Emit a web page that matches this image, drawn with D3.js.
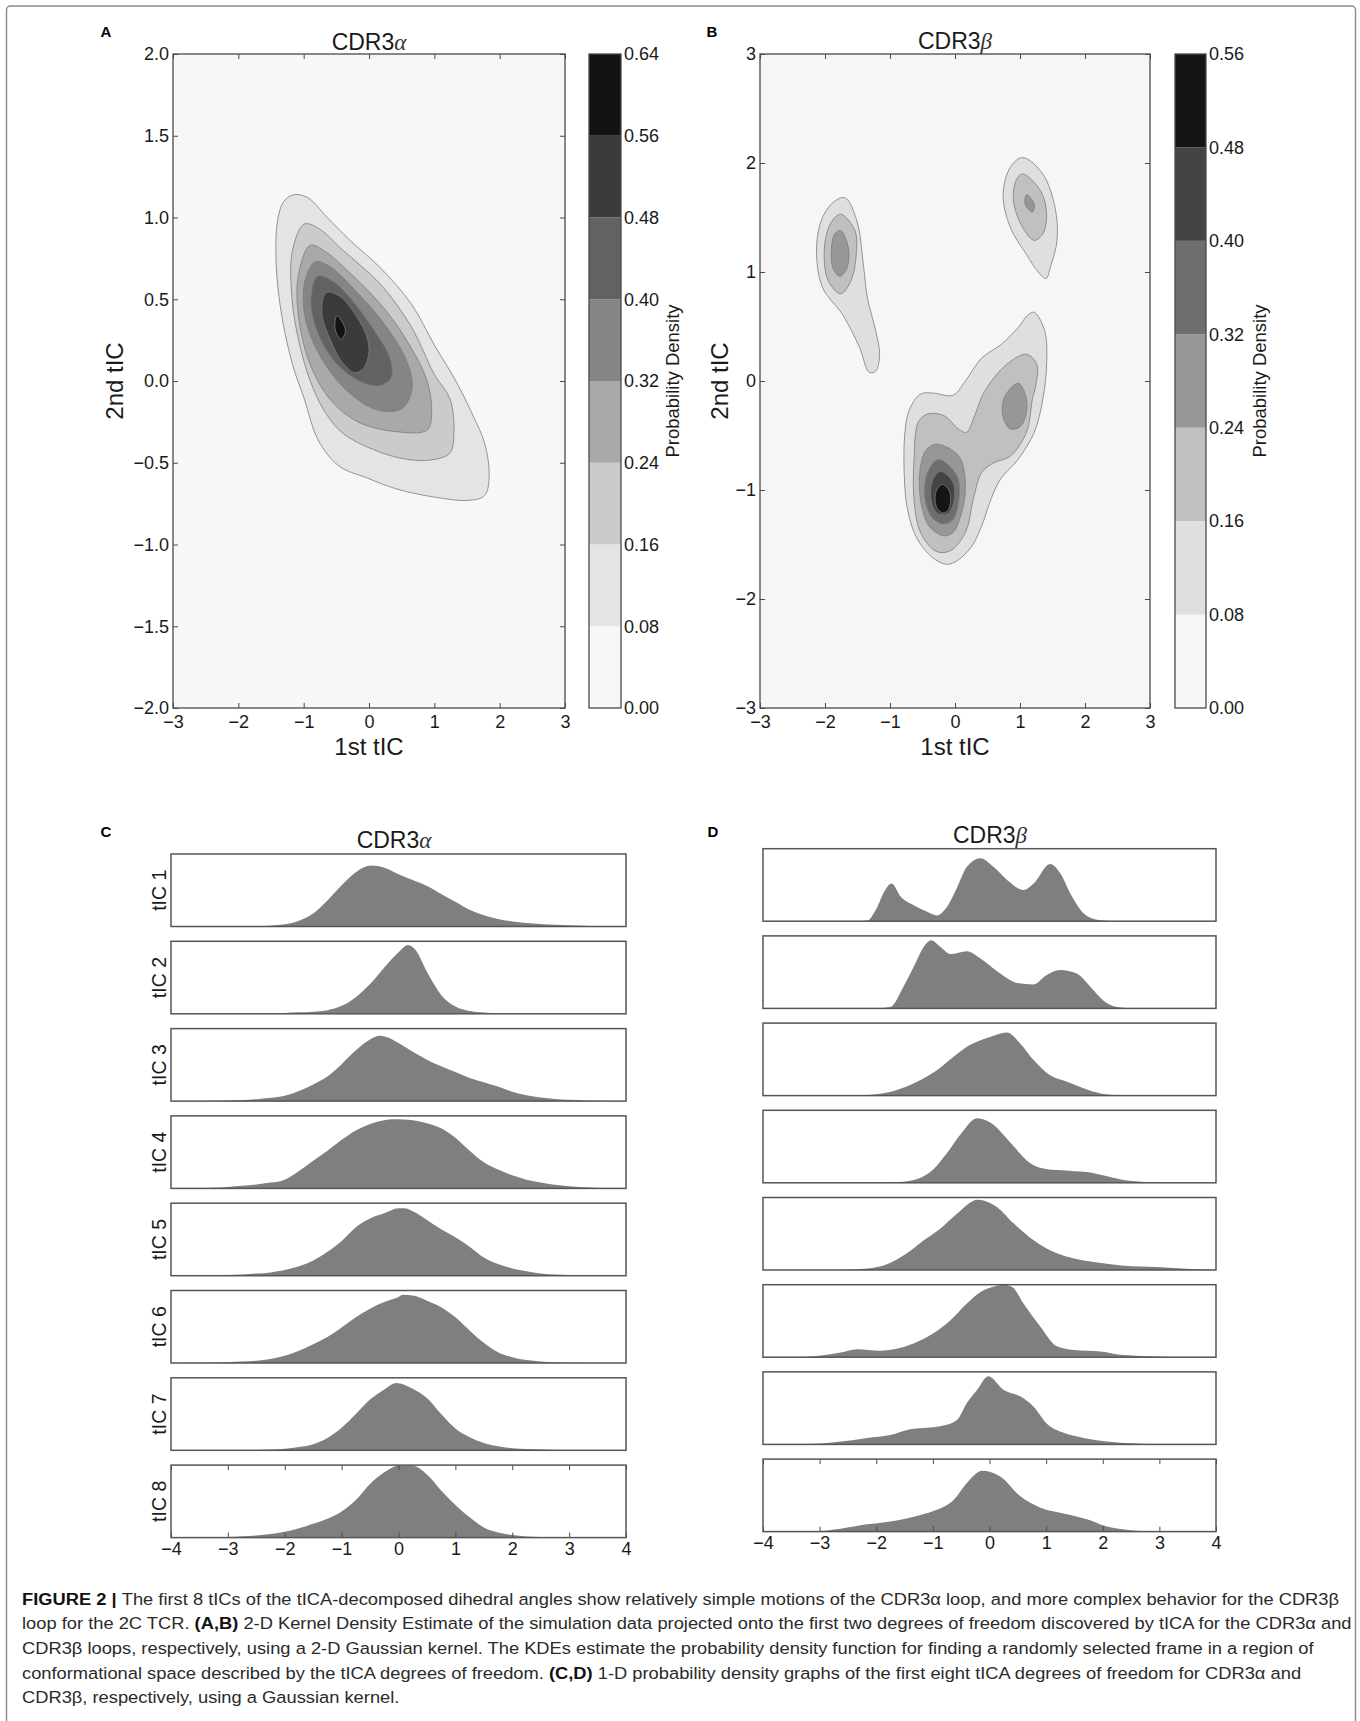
<!DOCTYPE html>
<html><head><meta charset="utf-8">
<script src="https://cdn.jsdelivr.net/npm/d3@7"></script>
<style>
body{margin:0;background:#fff}
svg{display:block}
text{font-family:"Liberation Sans",Arial,Helvetica,sans-serif}
</style></head>
<body><svg id="fig" width="1360" height="1721"></svg>
<script>
// ---------------- DATA ----------------
// Panel A (CDR3 alpha) - 2D KDE contour outlines [1st tIC, 2nd tIC]
const levelsA = [0, 0.08, 0.16, 0.24, 0.32, 0.40, 0.48, 0.56, 0.64];
const contourA08 = [[-1.14,1.14],[-0.93,1.12],[-0.64,1.0],[-0.29,0.86],[0.18,0.69],[0.65,0.47],[1.0,0.22],[1.33,0.0],[1.59,-0.21],[1.77,-0.38],[1.84,-0.58],[1.77,-0.70],[1.53,-0.73],[1.0,-0.71],[0.42,-0.66],[-0.05,-0.59],[-0.46,-0.52],[-0.78,-0.36],[-0.99,-0.11],[-1.17,0.10],[-1.34,0.41],[-1.42,0.71],[-1.40,0.98],[-1.30,1.10]];
const contourA16 = [[-0.99,0.96],[-0.76,0.93],[-0.40,0.80],[0.18,0.59],[0.65,0.33],[1.0,0.04],[1.24,-0.11],[1.30,-0.32],[1.24,-0.44],[1.0,-0.48],[0.59,-0.48],[0.07,-0.42],[-0.40,-0.32],[-0.64,-0.21],[-0.85,-0.05],[-1.05,0.20],[-1.18,0.51],[-1.17,0.80]];
const contourA24 = [[-0.90,0.83],[-0.70,0.80],[-0.29,0.66],[0.24,0.44],[0.65,0.20],[0.89,0.0],[0.96,-0.19],[0.89,-0.30],[0.42,-0.31],[-0.17,-0.25],[-0.58,-0.12],[-0.90,0.10],[-1.08,0.40],[-1.08,0.65]];
const contourA32 = [[-0.82,0.73],[-0.60,0.70],[-0.20,0.55],[0.25,0.34],[0.58,0.12],[0.66,-0.05],[0.50,-0.17],[0.15,-0.18],[-0.25,-0.09],[-0.60,0.06],[-0.88,0.26],[-1.00,0.45],[-0.97,0.63]];
const contourA40 = [[-0.79,0.64],[-0.55,0.61],[-0.25,0.49],[0.08,0.31],[0.32,0.14],[0.34,0.02],[0.15,-0.03],[-0.20,0.01],[-0.55,0.13],[-0.79,0.30],[-0.89,0.48]];
const contourA48 = [[-0.66,0.54],[-0.45,0.52],[-0.25,0.43],[-0.05,0.29],[0.00,0.18],[-0.08,0.08],[-0.22,0.05],[-0.42,0.12],[-0.60,0.26],[-0.72,0.41]];
const contourA56 = [[-0.49,0.40],[-0.36,0.31],[-0.43,0.255],[-0.52,0.32]];

// Panel B (CDR3 beta)
const levelsB = [0, 0.08, 0.16, 0.24, 0.32, 0.40, 0.48, 0.56];
const contourB08 = [
  [[-1.69,1.68],[-1.51,1.47],[-1.41,1.07],[-1.35,0.77],[-1.22,0.46],[-1.16,0.245],[-1.22,0.09],[-1.32,0.08],[-1.47,0.31],[-1.73,0.61],[-2.04,0.86],[-2.13,1.22],[-2.04,1.50],[-1.85,1.65]],
  [[1.04,2.05],[1.35,1.90],[1.54,1.59],[1.57,1.29],[1.47,1.05],[1.40,0.94],[1.28,1.00],[1.10,1.16],[0.85,1.41],[0.74,1.71],[0.85,1.96]],
  [[1.22,0.63],[1.38,0.46],[1.41,0.15],[1.35,-0.17],[1.22,-0.47],[0.97,-0.72],[0.70,-0.90],[0.55,-1.09],[0.41,-1.33],[0.23,-1.54],[-0.08,-1.68],[-0.30,-1.64],[-0.58,-1.45],[-0.73,-1.18],[-0.78,-0.87],[-0.77,-0.47],[-0.70,-0.26],[-0.53,-0.12],[-0.35,-0.11],[-0.03,-0.13],[0.16,0.0],[0.41,0.21],[0.72,0.34],[0.97,0.49],[1.13,0.61]]
];
const contourB16 = [
  [[-1.76,1.53],[-1.54,1.38],[-1.52,1.16],[-1.60,0.92],[-1.76,0.80],[-1.95,0.92],[-2.01,1.22],[-1.91,1.45]],
  [[1.04,1.90],[1.32,1.74],[1.41,1.53],[1.35,1.35],[1.22,1.29],[1.04,1.41],[0.90,1.65],[0.94,1.84]],
  [[1.10,0.245],[1.26,0.15],[1.24,-0.05],[1.19,-0.17],[1.10,-0.47],[0.85,-0.69],[0.60,-0.75],[0.41,-0.84],[0.28,-1.09],[0.16,-1.39],[-0.08,-1.56],[-0.30,-1.56],[-0.53,-1.39],[-0.63,-1.09],[-0.63,-0.72],[-0.56,-0.37],[-0.40,-0.30],[-0.16,-0.32],[0.05,-0.44],[0.18,-0.47],[0.30,-0.32],[0.45,-0.10],[0.79,0.15]]
];
const contourB24 = [
  [[-1.76,1.38],[-1.64,1.22],[-1.66,1.04],[-1.77,0.96],[-1.88,1.04],[-1.90,1.22],[-1.85,1.35]],
  [[1.10,1.71],[1.22,1.62],[1.19,1.55],[1.08,1.62]],
  [[0.97,-0.02],[1.08,-0.12],[1.10,-0.29],[1.0,-0.42],[0.85,-0.44],[0.74,-0.33],[0.76,-0.15]],
  [[-0.28,-0.58],[0.06,-0.69],[0.16,-0.96],[0.10,-1.21],[-0.03,-1.39],[-0.18,-1.42],[-0.40,-1.33],[-0.53,-1.09],[-0.53,-0.78],[-0.44,-0.63]]
];
const contourB32 = [[[-0.25,-0.72],[0.03,-0.87],[0.06,-1.09],[-0.03,-1.27],[-0.18,-1.31],[-0.37,-1.24],[-0.47,-1.02],[-0.40,-0.81]]];
const contourB40 = [[[-0.22,-0.83],[-0.03,-0.93],[-0.02,-1.12],[-0.12,-1.22],[-0.28,-1.21],[-0.37,-1.09],[-0.34,-0.90]]];
const contourB48 = [[[-0.19,-0.95],[-0.08,-1.02],[-0.10,-1.18],[-0.19,-1.21],[-0.29,-1.15],[-0.29,-1.01]]];

// Axis ticks
const xTicks2D = [-3,-2,-1,0,1,2,3];
const yTicksA = [-2,-1.5,-1,-0.5,0,0.5,1,1.5,2];
const yTicksB = [-3,-2,-1,0,1,2,3];
const xTicks1D = [-4,-3,-2,-1,0,1,2,3,4];
const tICLabels = ["tIC 1","tIC 2","tIC 3","tIC 4","tIC 5","tIC 6","tIC 7","tIC 8"];

// Panel C: 1-D densities, CDR3 alpha  [x, relative density]
const densC1 = [[-4,0],[-2.75,0],[-2.5,0.005],[-2.25,0.012],[-2,0.03],[-1.75,0.08],[-1.5,0.18],[-1.25,0.36],[-1,0.57],[-0.75,0.75],[-0.48,0.84],[-0.25,0.81],[0,0.72],[0.25,0.64],[0.5,0.56],[0.75,0.45],[1,0.34],[1.25,0.23],[1.5,0.155],[1.75,0.105],[2,0.07],[2.25,0.05],[2.5,0.035],[2.75,0.025],[3,0.018],[3.25,0.012],[3.5,0.008],[3.75,0.004],[4,0.002]];
const densC2 = [[-4,0],[-2.5,0],[-2.25,0.005],[-2,0.012],[-1.75,0.02],[-1.5,0.03],[-1.25,0.05],[-1,0.11],[-0.75,0.23],[-0.5,0.41],[-0.25,0.64],[0,0.85],[0.17,0.95],[0.3,0.88],[0.5,0.58],[0.75,0.26],[1,0.10],[1.25,0.04],[1.5,0.018],[1.75,0.008],[2,0.003],[2.5,0],[4,0]];
const densC3 = [[-4,0],[-3.5,0.002],[-3.25,0.005],[-3,0.01],[-2.75,0.015],[-2.5,0.025],[-2.25,0.045],[-2,0.075],[-1.75,0.14],[-1.5,0.23],[-1.25,0.34],[-1,0.51],[-0.75,0.70],[-0.5,0.85],[-0.33,0.90],[-0.2,0.88],[0,0.80],[0.25,0.68],[0.5,0.57],[0.75,0.48],[1,0.40],[1.25,0.32],[1.5,0.26],[1.75,0.20],[2,0.13],[2.25,0.08],[2.5,0.05],[2.75,0.03],[3,0.018],[3.25,0.01],[3.5,0.005],[4,0]];
const densC4 = [[-4,0],[-3.5,0.005],[-3.25,0.01],[-3,0.02],[-2.75,0.035],[-2.5,0.055],[-2.25,0.08],[-2,0.12],[-1.75,0.24],[-1.5,0.38],[-1.25,0.52],[-1,0.67],[-0.75,0.80],[-0.5,0.89],[-0.25,0.94],[-0.1,0.955],[0.1,0.95],[0.25,0.94],[0.5,0.90],[0.75,0.83],[1,0.70],[1.25,0.52],[1.5,0.36],[1.75,0.26],[2,0.18],[2.25,0.12],[2.5,0.08],[2.75,0.05],[3,0.03],[3.25,0.015],[3.5,0.007],[4,0]];
const densC5 = [[-4,0],[-3.5,0.003],[-3.25,0.006],[-3,0.01],[-2.75,0.018],[-2.5,0.03],[-2.25,0.045],[-2,0.08],[-1.75,0.13],[-1.5,0.21],[-1.25,0.33],[-1,0.48],[-0.75,0.67],[-0.5,0.79],[-0.25,0.86],[0,0.93],[0.1,0.93],[0.25,0.89],[0.5,0.77],[0.75,0.64],[1,0.53],[1.25,0.40],[1.5,0.25],[1.75,0.16],[2,0.10],[2.25,0.06],[2.5,0.03],[2.75,0.015],[3,0.008],[3.5,0.002],[4,0]];
const densC6 = [[-4,0],[-3.5,0.003],[-3.25,0.007],[-3,0.012],[-2.75,0.02],[-2.5,0.03],[-2.25,0.055],[-2,0.10],[-1.75,0.17],[-1.5,0.26],[-1.25,0.36],[-1,0.49],[-0.75,0.63],[-0.5,0.75],[-0.25,0.84],[0,0.91],[0.08,0.94],[0.25,0.93],[0.5,0.86],[0.75,0.77],[1,0.63],[1.25,0.45],[1.5,0.28],[1.75,0.15],[2,0.08],[2.25,0.04],[2.5,0.02],[2.75,0.01],[3,0.005],[3.5,0],[4,0]];
const densC7 = [[-4,0],[-3,0],[-2.75,0.002],[-2.5,0.005],[-2.25,0.01],[-2,0.02],[-1.75,0.045],[-1.5,0.085],[-1.25,0.17],[-1,0.31],[-0.75,0.50],[-0.5,0.70],[-0.25,0.84],[-0.04,0.93],[0.25,0.85],[0.5,0.72],[0.75,0.50],[1,0.30],[1.25,0.18],[1.5,0.10],[1.75,0.055],[2,0.03],[2.25,0.018],[2.5,0.01],[2.75,0.005],[3,0.002],[3.25,0],[4,0]];
const densC8 = [[-4,0],[-3.5,0.002],[-3.25,0.005],[-3,0.01],[-2.75,0.02],[-2.5,0.03],[-2.25,0.05],[-2,0.08],[-1.75,0.13],[-1.5,0.19],[-1.25,0.26],[-1,0.36],[-0.75,0.52],[-0.5,0.74],[-0.25,0.90],[0,0.99],[0.25,0.99],[0.5,0.87],[0.75,0.65],[1,0.45],[1.25,0.28],[1.5,0.14],[1.75,0.07],[2,0.035],[2.25,0.015],[2.5,0.007],[2.75,0.003],[3,0],[4,0]];

// Panel D: 1-D densities, CDR3 beta
const densD1 = [[-4,0],[-2.4,0],[-2.16,0.01],[-2,0.17],[-1.85,0.42],[-1.73,0.52],[-1.57,0.34],[-1.34,0.22],[-1.1,0.13],[-0.93,0.08],[-0.75,0.20],[-0.57,0.47],[-0.40,0.75],[-0.16,0.87],[0.07,0.75],[0.31,0.57],[0.60,0.43],[0.78,0.52],[1.07,0.79],[1.25,0.66],[1.43,0.38],[1.66,0.11],[1.90,0.02],[2.2,0],[4,0]];
const densD2 = [[-4,0],[-2,0],[-1.75,0.02],[-1.52,0.30],[-1.34,0.57],[-1.16,0.85],[-1.03,0.94],[-0.87,0.85],[-0.69,0.75],[-0.40,0.79],[-0.16,0.69],[0.19,0.48],[0.49,0.35],[0.78,0.33],[1.01,0.46],[1.25,0.53],[1.54,0.48],[1.78,0.30],[2.01,0.11],[2.25,0.02],[2.55,0],[4,0]];
const densD3 = [[-4,0],[-2.6,0],[-2.16,0.01],[-1.69,0.064],[-1.28,0.19],[-0.93,0.35],[-0.63,0.54],[-0.34,0.70],[0.01,0.81],[0.31,0.87],[0.54,0.72],[0.78,0.49],[1.07,0.28],[1.37,0.19],[1.66,0.10],[1.96,0.03],[2.31,0.005],[2.6,0],[4,0]];
const densD4 = [[-4,0],[-2,0],[-1.6,0.01],[-1.25,0.06],[-1,0.18],[-0.75,0.41],[-0.5,0.68],[-0.22,0.89],[0.07,0.80],[0.25,0.66],[0.43,0.50],[0.72,0.27],[1,0.19],[1.2,0.175],[1.5,0.16],[1.72,0.15],[1.96,0.11],[2.37,0.04],[2.78,0.01],[3.2,0],[4,0]];
const densD5 = [[-4,0],[-2.63,0],[-2.16,0.02],[-1.81,0.08],[-1.46,0.23],[-1.16,0.41],[-0.87,0.57],[-0.57,0.78],[-0.21,0.97],[0.13,0.87],[0.43,0.64],[0.78,0.41],[1.19,0.23],[1.49,0.16],[1.84,0.11],[2.37,0.06],[2.96,0.04],[3.55,0.014],[4,0]];
const densD6 = [[-4,0],[-3.5,0],[-3.05,0.018],[-2.63,0.064],[-2.34,0.11],[-1.93,0.09],[-1.69,0.11],[-1.34,0.19],[-0.99,0.33],[-0.69,0.51],[-0.40,0.74],[-0.16,0.90],[0.1,0.98],[0.25,1.0],[0.40,0.97],[0.60,0.74],[0.90,0.42],[1.19,0.15],[1.49,0.10],[1.96,0.08],[2.37,0.03],[2.96,0.01],[3.5,0],[4,0]];
const densD7 = [[-4,0],[-3.22,0.005],[-2.63,0.04],[-2.16,0.09],[-1.75,0.13],[-1.40,0.21],[-1.10,0.23],[-0.87,0.25],[-0.57,0.34],[-0.40,0.57],[-0.22,0.75],[-0.02,0.94],[0.25,0.75],[0.55,0.66],[0.78,0.52],[1.01,0.29],[1.31,0.16],[1.66,0.09],[2.07,0.04],[2.66,0.01],[3.2,0],[4,0]];
const densD8 = [[-4,0],[-3.1,0.005],[-2.63,0.04],[-2.16,0.10],[-1.75,0.14],[-1.22,0.23],[-0.93,0.30],[-0.63,0.44],[-0.40,0.67],[-0.13,0.84],[0.19,0.76],[0.54,0.49],[0.90,0.33],[1.25,0.26],[1.72,0.17],[2.07,0.07],[2.49,0.02],[2.96,0],[4,0]];

// Caption
const captionLines = [
  [["FIGURE 2 | ",true],["The first 8 tICs of the tICA-decomposed dihedral angles show relatively simple motions of the CDR3\u03b1 loop, and more complex behavior for the CDR3\u03b2",false]],
  [["loop for the 2C TCR. ",false],["(A,B)",true],[" 2-D Kernel Density Estimate of the simulation data projected onto the first two degrees of freedom discovered by tICA for the CDR3\u03b1 and",false]],
  [["CDR3\u03b2 loops, respectively, using a 2-D Gaussian kernel. The KDEs estimate the probability density function for finding a randomly selected frame in a region of",false]],
  [["conformational space described by the tICA degrees of freedom. ",false],["(C,D)",true],[" 1-D probability density graphs of the first eight tICA degrees of freedom for CDR3\u03b1 and",false]],
  [["CDR3\u03b2, respectively, using a Gaussian kernel.",false]]
];

// ---------------- DRAWING ----------------
const svg = d3.select("#fig");
const FRAME = "#4a4a4a";
const TXT = "#1a1a1a";

// outer figure border
svg.append("rect").attr("x",6.5).attr("y",6).attr("width",1349).attr("height",1740)
  .attr("rx",4).attr("fill","none").attr("stroke","#8a8a8a").attr("stroke-width",1.4);

function panelLetter(t, x, y){
  svg.append("text").attr("x",x).attr("y",y).attr("text-anchor","middle")
    .attr("font-weight","bold").attr("font-size",15).attr("fill","#000").text(t);
}
function title(greek, x, y){
  const t = svg.append("text").attr("x",x).attr("y",y).attr("text-anchor","middle")
    .attr("font-size",23).attr("fill",TXT);
  t.append("tspan").text("CDR3");
  t.append("tspan").attr("font-family","'Liberation Serif','DejaVu Serif',serif")
    .attr("font-style","italic").attr("fill","#333").text(greek);
}
function styleAxis(g){
  g.select(".domain").remove();
  g.selectAll(".tick line").attr("stroke",FRAME).attr("stroke-width",1);
  g.selectAll(".tick text").attr("font-size",18).attr("fill",TXT)
    .attr("font-family","'Liberation Sans',Arial,sans-serif");
}

function panel2D(cfg){
  const x = d3.scaleLinear().domain(cfg.xDomain).range([cfg.left, cfg.right]);
  const y = d3.scaleLinear().domain(cfg.yDomain).range([cfg.bottom, cfg.top]);
  const levels = cfg.levels;
  const col = d3.scaleSequential(d3.interpolateGreys).domain([levels[0], levels[levels.length-1]]);
  const bandColor = i => col((levels[i]+levels[i+1])/2);

  const clipId = "clip"+cfg.id;
  svg.append("clipPath").attr("id",clipId).append("rect")
    .attr("x",cfg.left).attr("y",cfg.top).attr("width",cfg.right-cfg.left).attr("height",cfg.bottom-cfg.top);
  const g = svg.append("g").attr("clip-path",`url(#${clipId})`);
  g.append("rect").attr("x",cfg.left).attr("y",cfg.top).attr("width",cfg.right-cfg.left)
    .attr("height",cfg.bottom-cfg.top).attr("fill",bandColor(0));

  const line = d3.line().x(d=>x(d[0])).y(d=>y(d[1])).curve(d3.curveCatmullRomClosed.alpha(0.5));
  cfg.contours.forEach((polys, i) => {
    g.selectAll(null).data(polys).join("path")
      .attr("d", line)
      .attr("fill", bandColor(i+1))
      .attr("stroke", "#7c7c7c").attr("stroke-width", 0.8);
  });

  // axes (matplotlib classic: inward ticks all round)
  const gb = svg.append("g").attr("transform",`translate(0,${cfg.bottom})`)
    .call(d3.axisBottom(x).tickValues(cfg.xTicks).tickSize(-5).tickSizeOuter(0).tickPadding(7).tickFormat(d3.format("d")));
  styleAxis(gb);
  const gt = svg.append("g").attr("transform",`translate(0,${cfg.top})`)
    .call(d3.axisTop(x).tickValues(cfg.xTicks).tickSize(-5).tickSizeOuter(0).tickFormat(""));
  styleAxis(gt);
  const gl = svg.append("g").attr("transform",`translate(${cfg.left},0)`)
    .call(d3.axisLeft(y).tickValues(cfg.yTicks).tickSize(-5).tickSizeOuter(0).tickPadding(4).tickFormat(d3.format(cfg.yFmt)));
  styleAxis(gl);
  const gr = svg.append("g").attr("transform",`translate(${cfg.right},0)`)
    .call(d3.axisRight(y).tickValues(cfg.yTicks).tickSize(-5).tickSizeOuter(0).tickFormat(""));
  styleAxis(gr);
  svg.append("rect").attr("x",cfg.left).attr("y",cfg.top).attr("width",cfg.right-cfg.left)
    .attr("height",cfg.bottom-cfg.top).attr("fill","none").attr("stroke",FRAME).attr("stroke-width",1.3);

  // axis labels
  svg.append("text").attr("x",(cfg.left+cfg.right)/2).attr("y",cfg.bottom+47)
    .attr("text-anchor","middle").attr("font-size",24).attr("fill",TXT).text("1st tIC");
  svg.append("text").attr("transform",`translate(${cfg.ylabX},${(cfg.top+cfg.bottom)/2}) rotate(-90)`)
    .attr("text-anchor","middle").attr("font-size",24).attr("fill",TXT).text("2nd tIC");

  // colorbar
  const cy = d3.scaleLinear().domain([levels[0], levels[levels.length-1]]).range([cfg.bottom, cfg.top]);
  const cb = svg.append("g");
  cb.selectAll("rect").data(d3.range(levels.length-1)).join("rect")
    .attr("x",cfg.cbLeft).attr("width",cfg.cbRight-cfg.cbLeft)
    .attr("y",i=>cy(levels[i+1])).attr("height",i=>cy(levels[i])-cy(levels[i+1]))
    .attr("fill",i=>bandColor(i));
  const ca = svg.append("g").attr("transform",`translate(${cfg.cbRight},0)`)
    .call(d3.axisRight(cy).tickValues(levels).tickSize(0).tickPadding(3).tickFormat(d3.format(".2f")));
  styleAxis(ca);
  svg.append("rect").attr("x",cfg.cbLeft).attr("y",cfg.top).attr("width",cfg.cbRight-cfg.cbLeft)
    .attr("height",cfg.bottom-cfg.top).attr("fill","none").attr("stroke",FRAME).attr("stroke-width",1.3);
  svg.append("text").attr("transform",`translate(${cfg.cbLabX},${(cfg.top+cfg.bottom)/2}) rotate(-90)`)
    .attr("text-anchor","middle").attr("font-size",18.5).attr("fill",TXT).text("Probability Density");
}

panel2D({id:"A", xDomain:[-3,3], yDomain:[-2,2], left:173, right:565, top:54, bottom:708,
  levels:levelsA, contours:[[contourA08],[contourA16],[contourA24],[contourA32],[contourA40],[contourA48],[contourA56]],
  xTicks:xTicks2D, yTicks:yTicksA, yFmt:".1f", ylabX:123, cbLeft:589, cbRight:621, cbLabX:679});
panel2D({id:"B", xDomain:[-3,3], yDomain:[-3,3], left:760, right:1150, top:54, bottom:708,
  levels:levelsB, contours:[contourB08,contourB16,contourB24,contourB32,contourB40,contourB48],
  xTicks:xTicks2D, yTicks:yTicksB, yFmt:"d", ylabX:728, cbLeft:1175, cbRight:1206, cbLabX:1266});

title("\u03b1", 369, 50);
title("\u03b2", 955, 49);
panelLetter("A",106,37); panelLetter("B",712,37);

// ---------- 1-D density columns ----------
function densityColumn(cfg){
  const x = d3.scaleLinear().domain([-4,4]).range([cfg.left, cfg.right]);
  cfg.series.forEach((s, i) => {
    const top = cfg.top0 + i*cfg.step, bottom = top + cfg.h;
    const y = d3.scaleLinear().domain([0,1]).range([bottom, top]);
    const area = d3.area().x(d=>x(d[0])).y0(bottom).y1(d=>y(d[1])).curve(d3.curveMonotoneX);
    svg.append("path").datum(s).attr("d",area).attr("fill","#7f7f7f");
    if (i === cfg.series.length-1){
      const gb = svg.append("g").attr("transform",`translate(0,${bottom})`)
        .call(d3.axisBottom(x).tickValues(xTicks1D).tickSize(-5).tickSizeOuter(0).tickPadding(5).tickFormat(d3.format("d")));
      styleAxis(gb);
      const gt = svg.append("g").attr("transform",`translate(0,${top})`)
        .call(d3.axisTop(x).tickValues(xTicks1D).tickSize(-5).tickSizeOuter(0).tickFormat(""));
      styleAxis(gt);
    }
    svg.append("rect").attr("x",cfg.left).attr("y",top).attr("width",cfg.right-cfg.left)
      .attr("height",cfg.h).attr("fill","none").attr("stroke","#555").attr("stroke-width",1.5);
    if (cfg.labels){
      svg.append("text").attr("transform",`translate(${cfg.left-5},${top+cfg.h/2}) rotate(-90)`)
        .attr("text-anchor","middle").attr("font-size",19.5).attr("fill",TXT).text(cfg.labels[i]);
    }
  });
}
densityColumn({left:171, right:626, top0:854, step:87.3, h:72.5,
  series:[densC1,densC2,densC3,densC4,densC5,densC6,densC7,densC8], labels:tICLabels});
densityColumn({left:763, right:1216, top0:848.7, step:87.2, h:72.5,
  series:[densD1,densD2,densD3,densD4,densD5,densD6,densD7,densD8], labels:null});

title("\u03b1", 394, 848);
title("\u03b2", 990, 843);
panelLetter("C",106,837); panelLetter("D",713,837);

// ---------- caption ----------
const capX = 22, capRight = 1340, capY0 = 1604.5, capDY = 24.7;
const capNodes = captionLines.map((segs, i) => {
  const t = svg.append("text").attr("x",0).attr("y",0).attr("font-size",17).attr("fill","#2a2a2a");
  segs.forEach(([s,b]) => t.append("tspan").attr("font-weight", b ? "bold" : null)
    .attr("fill", b ? "#111" : null).text(s));
  return t;
});
const sx = (capRight - capX) / capNodes[0].node().getComputedTextLength();
capNodes.forEach((t,i) => t.attr("transform",`translate(${capX},${capY0 + i*capDY}) scale(${sx},1)`));
</script>
</body></html>
